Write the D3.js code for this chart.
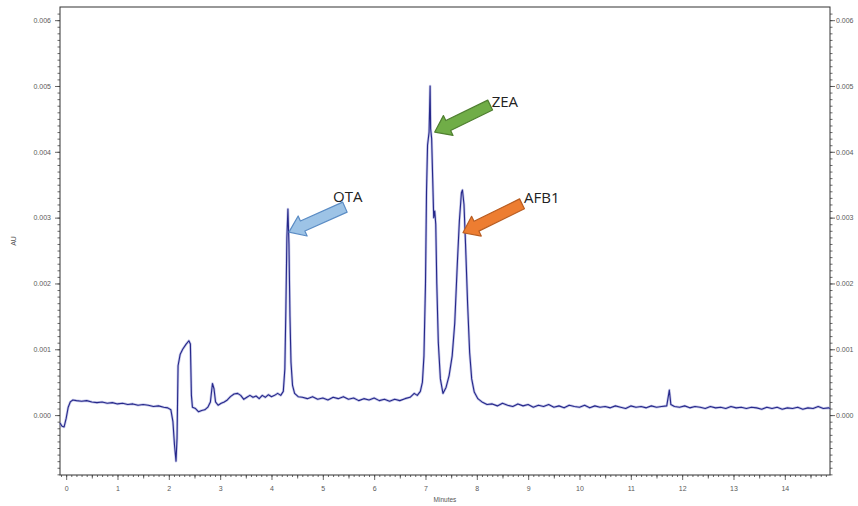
<!DOCTYPE html>
<html>
<head>
<meta charset="utf-8">
<script src="https://cdn.jsdelivr.net/npm/d3@7"></script>
<style>
  body { margin: 0; background: #fff; }
  svg { display: block; }
</style>
</head>
<body>
<svg id="chart" width="858" height="506"></svg>
<script>
// chromatogram trace: [minutes, mAU]
const trace = [
  [-0.12, -0.12], [-0.08, -0.17], [-0.04, -0.18], [0.0, -0.05], [0.04, 0.12], [0.08, 0.2],
  [0.13, 0.23], [0.2, 0.22], [0.3, 0.21], [0.4, 0.22], [0.5, 0.2], [0.6, 0.19], [0.7, 0.2],
  [0.8, 0.18], [0.9, 0.19], [1.0, 0.17], [1.1, 0.18], [1.2, 0.16], [1.3, 0.17], [1.4, 0.15],
  [1.5, 0.16], [1.6, 0.15], [1.7, 0.13], [1.8, 0.14], [1.9, 0.12], [1.98, 0.11], [2.04, 0.08],
  [2.08, -0.1], [2.11, -0.45], [2.14, -0.7], [2.16, -0.35], [2.18, 0.75], [2.22, 0.92],
  [2.27, 1.0], [2.33, 1.07], [2.39, 1.13], [2.42, 1.08], [2.44, 0.3], [2.46, 0.12], [2.52, 0.1],
  [2.58, 0.05], [2.64, 0.07], [2.7, 0.08], [2.76, 0.12], [2.81, 0.2], [2.85, 0.48], [2.88, 0.4],
  [2.91, 0.2], [2.96, 0.15], [3.02, 0.18], [3.08, 0.2], [3.14, 0.23], [3.2, 0.28], [3.27, 0.32],
  [3.34, 0.33], [3.4, 0.3], [3.46, 0.24], [3.52, 0.27], [3.58, 0.3], [3.64, 0.27], [3.7, 0.29],
  [3.76, 0.25], [3.82, 0.3], [3.88, 0.27], [3.94, 0.31], [4.0, 0.28], [4.06, 0.3], [4.12, 0.33],
  [4.18, 0.3], [4.23, 0.36], [4.26, 0.7], [4.28, 1.6], [4.3, 2.7], [4.32, 3.13], [4.34, 2.6],
  [4.36, 1.5], [4.38, 0.8], [4.41, 0.45], [4.45, 0.33], [4.52, 0.28], [4.6, 0.27], [4.7, 0.25],
  [4.8, 0.28], [4.9, 0.24], [5.0, 0.26], [5.1, 0.23], [5.2, 0.27], [5.3, 0.25], [5.4, 0.28],
  [5.5, 0.24], [5.6, 0.26], [5.7, 0.22], [5.8, 0.25], [5.9, 0.23], [6.0, 0.26], [6.1, 0.22],
  [6.2, 0.24], [6.3, 0.21], [6.4, 0.24], [6.5, 0.22], [6.6, 0.25], [6.7, 0.27], [6.78, 0.33],
  [6.84, 0.3], [6.9, 0.36], [6.94, 0.5], [6.97, 0.9], [7.0, 2.0], [7.02, 3.4], [7.04, 4.1],
  [7.07, 4.3], [7.09, 5.0], [7.1, 4.35], [7.12, 4.2], [7.14, 3.6], [7.16, 3.0], [7.18, 3.1],
  [7.2, 2.9], [7.22, 2.0], [7.25, 1.1], [7.29, 0.55], [7.34, 0.33], [7.4, 0.42], [7.46, 0.6],
  [7.52, 0.9], [7.57, 1.4], [7.62, 2.3], [7.66, 2.95], [7.7, 3.38], [7.72, 3.42], [7.75, 3.2],
  [7.78, 2.6], [7.82, 1.7], [7.86, 0.95], [7.9, 0.55], [7.95, 0.35], [8.02, 0.25], [8.1, 0.2],
  [8.2, 0.16], [8.3, 0.17], [8.4, 0.14], [8.5, 0.18], [8.6, 0.15], [8.7, 0.13], [8.8, 0.17],
  [8.9, 0.14], [9.0, 0.16], [9.1, 0.12], [9.2, 0.15], [9.3, 0.13], [9.4, 0.16], [9.5, 0.12],
  [9.6, 0.14], [9.7, 0.11], [9.8, 0.15], [9.9, 0.13], [10.0, 0.12], [10.1, 0.15], [10.2, 0.11],
  [10.3, 0.14], [10.4, 0.12], [10.5, 0.13], [10.6, 0.11], [10.7, 0.14], [10.8, 0.12], [10.9, 0.1],
  [11.0, 0.14], [11.1, 0.12], [11.2, 0.13], [11.3, 0.11], [11.4, 0.14], [11.5, 0.12], [11.6, 0.13],
  [11.7, 0.14], [11.75, 0.38], [11.78, 0.16], [11.85, 0.13], [11.95, 0.12], [12.05, 0.14],
  [12.15, 0.11], [12.25, 0.13], [12.35, 0.12], [12.45, 0.1], [12.55, 0.13], [12.65, 0.11],
  [12.75, 0.12], [12.85, 0.1], [12.95, 0.13], [13.05, 0.11], [13.15, 0.12], [13.25, 0.1],
  [13.35, 0.12], [13.45, 0.11], [13.55, 0.09], [13.65, 0.12], [13.75, 0.1], [13.85, 0.12],
  [13.95, 0.09], [14.05, 0.11], [14.15, 0.1], [14.25, 0.12], [14.35, 0.09], [14.45, 0.11],
  [14.55, 0.1], [14.65, 0.13], [14.75, 0.1], [14.85, 0.11], [14.88, 0.1]
];

const xTicks = [0, 1, 2, 3, 4, 5, 6, 7, 8, 9, 10, 11, 12, 13, 14];
const yTicks = [0, 0.001, 0.002, 0.003, 0.004, 0.005, 0.006];

// peak annotations, positions in [minutes, AU]
const peakNames = ['OTA', 'ZEA', 'AFB1'];
const arrowTips = [[4.34, 0.00278], [7.18, 0.0043], [7.73, 0.00277]];
const arrowTails = [[5.43, 0.00316], [8.26, 0.00471], [8.88, 0.00321]];
const labelAt = [[5.2, 0.00324], [8.29, 0.00468], [8.92, 0.00322]];
const arrowFill = ['#9dc3e6', '#70ad47', '#ed7d31'];
const arrowEdge = ['#5b8cc4', '#4f7f30', '#b85d22'];

const svg = d3.select('#chart');
const plotLeft = 60, plotRight = 830, plotTop = 7, plotBottom = 475;

const x = d3.scaleLinear().domain([-0.12, 14.88]).range([plotLeft, plotRight]);
const y = d3.scaleLinear().domain([-0.00091, 0.0062]).range([plotBottom, plotTop]);

const tickFont = 'Liberation Sans, Arial, sans-serif';

// minor ticks
const xMinor = d3.range(-1, 149).map(v => v / 10);
const xMid = d3.range(0.5, 14.9, 1);
const yMinor = d3.range(-9, 62).map(v => v / 10000);

const styleAxis = g => {
  g.select('.domain').remove();
  g.selectAll('line').attr('stroke', '#444').attr('stroke-width', 0.8);
  g.selectAll('text').attr('fill', '#5a5a5a').style('font-family', tickFont).style('font-size', '7px');
};

svg.append('g').attr('transform', `translate(${plotLeft},0)`)
  .call(d3.axisLeft(y).tickValues(yMinor).tickSize(2.5).tickFormat(''))
  .call(styleAxis);
svg.append('g').attr('transform', `translate(${plotLeft},0)`)
  .call(d3.axisLeft(y).tickValues(yTicks).tickSize(5).tickPadding(4).tickFormat(d3.format('.3f')))
  .call(styleAxis);

svg.append('g').attr('transform', `translate(${plotRight},0)`)
  .call(d3.axisRight(y).tickValues(yMinor).tickSize(2.5).tickFormat(''))
  .call(styleAxis);
svg.append('g').attr('transform', `translate(${plotRight},0)`)
  .call(d3.axisRight(y).tickValues(yTicks).tickSize(5).tickPadding(1).tickFormat(d3.format('.3f')))
  .call(styleAxis);

svg.append('g').attr('transform', `translate(0,${plotBottom})`)
  .call(d3.axisBottom(x).tickValues(xMinor).tickSize(2).tickFormat(''))
  .call(styleAxis);
svg.append('g').attr('transform', `translate(0,${plotBottom})`)
  .call(d3.axisBottom(x).tickValues(xMid).tickSize(3.5).tickFormat(''))
  .call(styleAxis);
svg.append('g').attr('transform', `translate(0,${plotBottom})`)
  .call(d3.axisBottom(x).tickValues(xTicks).tickSize(5).tickPadding(6).tickFormat(d3.format('d')))
  .call(styleAxis);

// frame
svg.append('rect')
  .attr('x', plotLeft).attr('y', plotTop)
  .attr('width', plotRight - plotLeft).attr('height', plotBottom - plotTop)
  .attr('fill', 'none').attr('stroke', '#333').attr('stroke-width', 1);

// axis titles
svg.append('text')
  .attr('transform', `translate(16,${(plotTop + plotBottom) / 2}) rotate(-90)`)
  .attr('text-anchor', 'middle')
  .style('font-family', tickFont).style('font-size', '7px').attr('fill', '#555')
  .text('AU');
svg.append('text')
  .attr('x', x(7.38)).attr('y', 502)
  .attr('text-anchor', 'middle')
  .style('font-family', tickFont).style('font-size', '6.5px').attr('fill', '#555')
  .text('Minutes');

// trace
const line = d3.line()
  .x(d => x(d[0]))
  .y(d => y(d[1] / 1000));

svg.append('path')
  .datum(trace)
  .attr('fill', 'none')
  .attr('stroke', '#8e92d6')
  .attr('stroke-width', 2.6)
  .attr('stroke-linejoin', 'round')
  .attr('opacity', 0.5)
  .attr('d', line);
svg.append('path')
  .datum(trace)
  .attr('fill', 'none')
  .attr('stroke', '#26288a')
  .attr('stroke-width', 1.1)
  .attr('stroke-linejoin', 'round')
  .attr('d', line);

// block arrows pointing at the peaks
const arrowPoints = (tail, tip) => {
  const x0 = x(tail[0]), y0 = y(tail[1]);
  const x1 = x(tip[0]), y1 = y(tip[1]);
  const len = Math.hypot(x1 - x0, y1 - y0);
  const ux = (x1 - x0) / len, uy = (y1 - y0) / len;
  const px = -uy, py = ux;
  const sw = 5.5, hw = 11, hl = 15;
  const pt = (u, v) => [x0 + ux * u + px * v, y0 + uy * u + py * v];
  return [pt(0, -sw), pt(len - hl, -sw), pt(len - hl, -hw), pt(len, 0),
          pt(len - hl, hw), pt(len - hl, sw), pt(0, sw)];
};

const notes = svg.append('g').selectAll('g')
  .data(peakNames)
  .join('g');

notes.append('polygon')
  .attr('points', (d, i) => arrowPoints(arrowTails[i], arrowTips[i]).map(p => p.join(',')).join(' '))
  .attr('fill', (d, i) => arrowFill[i])
  .attr('stroke', (d, i) => arrowEdge[i])
  .attr('stroke-width', 1.2)
  .attr('stroke-linejoin', 'round');

notes.append('text')
  .attr('x', (d, i) => x(labelAt[i][0]))
  .attr('y', (d, i) => y(labelAt[i][1]))
  .style('font-family', 'Open Sans, sans-serif')
  .style('font-size', '15px')
  .attr('fill', '#222')
  .text(d => d);
</script>
</body>
</html>
